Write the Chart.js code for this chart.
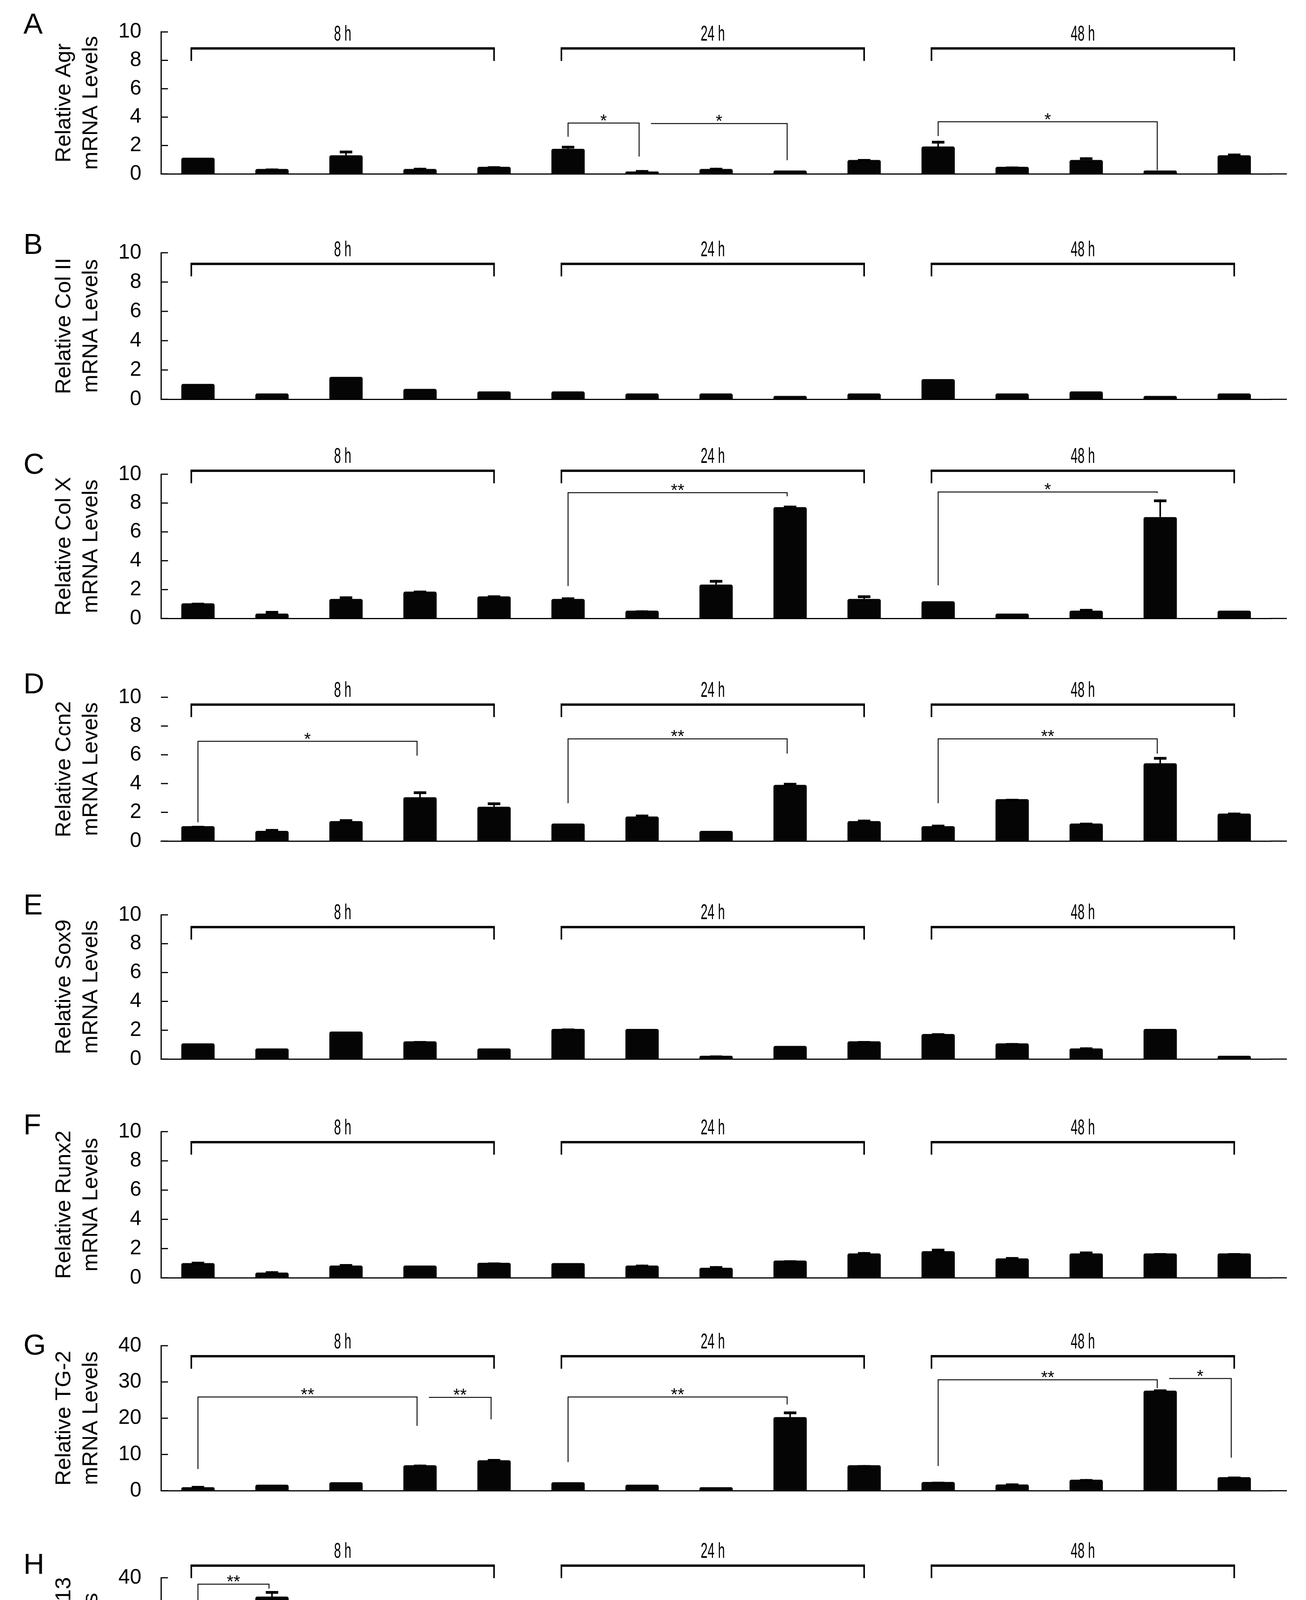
<!DOCTYPE html>
<html lang="en">
<head>
<meta charset="UTF-8" />
<title>Relative mRNA Levels</title>
<script src="https://cdn.jsdelivr.net/npm/chart.js"></script>
<style>
  body { margin: 0; background: #fff; }
  #page { position: relative; width: 3343px; height: 4892px; background: #fff; overflow: hidden; }
  canvas { position: absolute; left: 0; }
</style>
</head>
<body>
<div id="page"></div>
<script>
// ---- data ----
const timeGroups = ['8 h', '24 h', '48 h'];
const treatments = ['Control', 'IL-1 β', 'AGN195183', 'AGN204647', 'ATRA'];

const agrMean  = [1.14, 0.35, 1.31, 0.35, 0.50, 1.77, 0.17, 0.35, 0.24, 0.98, 1.93, 0.50, 0.98, 0.24, 1.31];
const agrErr   = [0, 0.03, 0.33, 0.08, 0.04, 0.21, 0.10, 0.08, 0, 0.07, 0.40, 0.02, 0.19, 0, 0.12];
const col2Mean = [1.05, 0.40, 1.53, 0.71, 0.54, 0.54, 0.40, 0.40, 0.23, 0.40, 1.38, 0.40, 0.54, 0.23, 0.40];
const col2Err  = [0, 0, 0, 0, 0, 0, 0, 0, 0, 0, 0, 0, 0, 0, 0];
const colXMean = [1.05, 0.34, 1.35, 1.86, 1.53, 1.35, 0.54, 2.35, 7.72, 1.35, 1.19, 0.34, 0.54, 7.03, 0.54];
const colXErr  = [0.04, 0.18, 0.18, 0.07, 0.07, 0.11, 0.02, 0.32, 0.10, 0.25, 0, 0, 0.12, 1.22, 0];
const ccn2Mean = [1.04, 0.71, 1.39, 3.05, 2.39, 1.22, 1.71, 0.71, 3.91, 1.39, 1.04, 2.92, 1.22, 5.41, 1.91];
const ccn2Err  = [0.02, 0.13, 0.13, 0.41, 0.30, 0, 0.13, 0, 0.14, 0.10, 0.10, 0.02, 0.06, 0.44, 0.07];
const sox9Mean = [1.09, 0.74, 1.91, 1.23, 0.74, 2.09, 2.09, 0.23, 0.91, 1.23, 1.74, 1.09, 0.74, 2.09, 0.23];
const sox9Err  = [0, 0, 0, 0.02, 0, 0.03, 0, 0.02, 0, 0.02, 0.05, 0.02, 0.07, 0, 0];
const runxMean = [1.01, 0.36, 0.84, 0.84, 1.03, 1.01, 0.84, 0.69, 1.18, 1.67, 1.82, 1.33, 1.67, 1.67, 1.67];
const runxErr  = [0.09, 0.09, 0.10, 0, 0.02, 0, 0.06, 0.11, 0.02, 0.09, 0.17, 0.09, 0.13, 0.02, 0.02];
const tg2Mean  = [0.97, 1.66, 2.35, 7.02, 8.40, 2.35, 1.66, 0.97, 20.3, 7.02, 2.42, 1.73, 3.04, 27.6, 3.73];
const tg2Err   = [0.35, 0, 0, 0.17, 0.35, 0, 0, 0, 1.56, 0.05, 0.05, 0.28, 0.17, 0.35, 0.17];
const mmpMean  = [1.43, 35.4, 0.82, 5.34, 4.05, 2.69, 13.86, 0.75, 5.96, 3.98, 3.37, 5.96, 2.00, 4.73, 2.69];
const mmpErr   = [0, 1.36, 0.20, 0, 0.05, 0, 0.50, 0.50, 0, 0.50, 0, 0, 0.27, 0.05, 0];

// significance brackets: [from bar, to bar, line value, label, left leg end (null = none), right leg end]
const agrSig  = [[5, 6, 3.58, '*', 2.62, 1.22], [6, 8, 3.55, '*', null, 0.96], [10, 13, 3.67, '*', 2.67, 0.27]];
const col2Sig = [];
const colXSig = [[5, 8, 8.72, '**', 2.25, 8.47], [10, 13, 8.77, '*', 2.30, 8.70]];
const ccn2Sig = [[0, 3, 6.94, '*', 1.30, 5.94], [5, 8, 7.11, '**', 2.63, 6.08], [10, 13, 7.11, '**', 2.63, 6.08]];
const sox9Sig = [];
const runxSig = [];
const tg2Sig  = [[0, 3, 25.86, '**', 5.98, 17.9], [3, 4, 25.75, '**', null, 19.7], [5, 8, 25.86, '**', 7.88, 23.78],
                 [10, 13, 30.59, '**', 6.84, 28.27], [13, 14, 30.94, '*', null, 9.09]];
const mmpSig  = [[0, 1, 38.43, '**', 3.30, 37.35], [5, 6, 26.21, '**', 4.43, 16.41], [6, 8, 25.94, '*', null, 10.28],
                 [10, 11, 13.62, '*', 5.79, 9.60]];

// value at which the 8 h / 24 h / 48 h brackets sit in each panel
const groupBracketY = [8.84, 9.24, 10.24, 9.49, 9.15, 9.28, 37.1, 42.95];

const signIL1b   = ['-', '+', '-', '-', '-', '-', '+', '-', '-', '-', '-', '+', '-', '-', '-'];
const signAGN195 = ['-', '-', '+', '-', '-', '-', '-', '+', '-', '-', '-', '-', '+', '-', '-'];
const signAGN204 = ['-', '-', '-', '+', '-', '-', '-', '-', '+', '-', '-', '-', '-', '+', '-'];
const signATRA   = ['-', '-', '-', '-', '+', '-', '-', '-', '-', '+', '-', '-', '-', '-', '+'];

const categories = [];
timeGroups.forEach(t => treatments.forEach(tr => categories.push(t + ' ' + tr)));

// ---- layout ----
const FONT = "'Liberation Sans', Arial, sans-serif";
const W = 3343, H = 4892;
const panels = [
  { letter: 'A', gene: 'Agr',    mean: agrMean,  err: agrErr,  sig: agrSig,  max: 10, step: 2,  top: 57,   height: 430, letterY: 86 },
  { letter: 'B', gene: 'Col II', mean: col2Mean, err: col2Err, sig: col2Sig, max: 10, step: 2,  top: 647,  height: 417, letterY: 650 },
  { letter: 'C', gene: 'Col X',  mean: colXMean, err: colXErr, sig: colXSig, max: 10, step: 2,  top: 1214, height: 411, letterY: 1213 },
  { letter: 'D', gene: 'Ccn2',   mean: ccn2Mean, err: ccn2Err, sig: ccn2Sig, max: 10, step: 2,  top: 1785, height: 410, letterY: 1775, noAxis: true },
  { letter: 'E', gene: 'Sox9',   mean: sox9Mean, err: sox9Err, sig: sox9Sig, max: 10, step: 2,  top: 2342, height: 411, letterY: 2341 },
  { letter: 'F', gene: 'Runx2',  mean: runxMean, err: runxErr, sig: runxSig, max: 10, step: 2,  top: 2897, height: 416, letterY: 2904 },
  { letter: 'G', gene: 'TG-2',   mean: tg2Mean,  err: tg2Err,  sig: tg2Sig,  max: 40, step: 10, top: 3445, height: 413, letterY: 3468 },
  { letter: 'H', gene: 'Mmp-13', mean: mmpMean,  err: mmpErr,  sig: mmpSig,  max: 40, step: 10, top: 4039, height: 420, letterY: 4029, table: true }
];

function narrowText(ctx, text, x, y, size, squeeze) {
  ctx.save();
  ctx.translate(x, y);
  ctx.scale(squeeze, 1);
  ctx.font = size + 'px ' + FONT;
  ctx.textAlign = 'center';
  ctx.textBaseline = 'alphabetic';
  ctx.fillText(text, 0, 0);
  ctx.restore();
}

function decorPlugin(p, idx, canvasTop) {
  return {
    id: 'decor' + idx,
    afterDatasetsDraw(chart) {
      const ctx = chart.ctx, ys = chart.scales.y;
      const meta = chart.getDatasetMeta(0);
      ctx.save();
      ctx.fillStyle = '#000';
      ctx.strokeStyle = '#000';
      ctx.lineWidth = 4;
      meta.data.forEach((bar, i) => {
        const e = p.err[i];
        if (!e) return;
        const yTop = ys.getPixelForValue(p.mean[i] + e);
        ctx.beginPath();
        ctx.moveTo(bar.x, bar.y);
        ctx.lineTo(bar.x, yTop);
        ctx.stroke();
        ctx.fillRect(bar.x - 16, yTop, 32, 7);
      });
      ctx.restore();
    },
    afterDraw(chart) {
      const { ctx, chartArea, scales: { x, y } } = chart;
      const cx = i => x.getPixelForValue(i);
      const cw = cx(1) - cx(0);
      ctx.save();
      ctx.fillStyle = '#000';
      ctx.strokeStyle = '#000';

      // ticks pointing into the plot
      ctx.lineWidth = 3;
      y.ticks.forEach(t => {
        const py = y.getPixelForValue(t.value);
        ctx.beginPath();
        ctx.moveTo(chartArea.left, py);
        ctx.lineTo(chartArea.left + 18, py);
        ctx.stroke();
      });
      // x axis runs a little past the last bar
      ctx.beginPath();
      ctx.moveTo(chartArea.right - 2, chartArea.bottom);
      ctx.lineTo(chartArea.right + 40, chartArea.bottom);
      ctx.stroke();

      // panel letter
      ctx.font = '74px ' + FONT;
      ctx.textAlign = 'left';
      ctx.textBaseline = 'alphabetic';
      ctx.fillText(p.letter, 60, p.letterY - canvasTop);

      // 8 h / 24 h / 48 h brackets
      const gy = y.getPixelForValue(groupBracketY[idx]);
      timeGroups.forEach((g, k) => {
        const xl = cx(k * 5) - 0.09 * cw;
        const xr = cx(k * 5 + 4);
        ctx.fillRect(xl - 2, gy - 3, xr - xl + 4, 6);
        ctx.fillRect(xl - 2, gy, 4, 32);
        ctx.fillRect(xr - 2, gy, 4, 32);
        narrowText(ctx, g, (xl + xr) / 2, gy - 20, 56, 0.57);
      });

      // significance brackets
      ctx.lineWidth = 2.5;
      ctx.strokeStyle = '#111';
      p.sig.forEach(([i, j, v, label, legL, legR]) => {
        const xa = legL === null ? cx(i) + 0.12 * cw : cx(i);
        const xb = cx(j) - 0.04 * cw;
        const yl = y.getPixelForValue(v);
        ctx.beginPath();
        if (legL === null) {
          ctx.moveTo(xa, yl);
        } else {
          ctx.moveTo(xa, y.getPixelForValue(legL));
          ctx.lineTo(xa, yl);
        }
        ctx.lineTo(xb, yl);
        ctx.lineTo(xb, y.getPixelForValue(legR));
        ctx.stroke();
        ctx.font = '44px ' + FONT;
        ctx.textAlign = 'center';
        ctx.fillText(label, (xa + xb) / 2, yl + 9);
      });

      // treatment table under the last panel
      if (p.table) {
        const rows = [
          ['IL-1 β', signIL1b, true],
          ['AGN195183', signAGN195, false],
          ['AGN204647', signAGN204, false],
          ['ATRA', signATRA, true]
        ];
        const rowOffsets = [174, 248, 323, 399];
        rows.forEach(([name, signs, shadow], r) => {
          const by = chartArea.bottom + rowOffsets[r];
          ctx.save();
          if (shadow) {
            ctx.shadowColor = 'rgba(0,0,0,0.4)';
            ctx.shadowOffsetX = 3;
            ctx.shadowOffsetY = 5;
            ctx.shadowBlur = 5;
          }
          ctx.font = '56px ' + FONT;
          ctx.textAlign = 'right';
          ctx.fillText(name, 345, by);
          ctx.restore();
          ctx.font = '54px ' + FONT;
          ctx.textAlign = 'center';
          signs.forEach((s, i) => ctx.fillText(s, cx(i) - 12, by));
        });
      }
      ctx.restore();
    }
  };
}

const page = document.getElementById('page');

panels.forEach((p, idx) => {
  const padTop = Math.min(p.top, 130);
  const padBottom = p.table ? H - (p.top + p.height) : 40;
  const canvasTop = p.top - padTop;
  const canvasHeight = padTop + p.height + padBottom;
  const canvas = document.createElement('canvas');
  canvas.width = W;
  canvas.height = canvasHeight;
  canvas.style.top = canvasTop + 'px';
  canvas.style.width = W + 'px';
  canvas.style.height = canvasHeight + 'px';
  page.appendChild(canvas);

  new Chart(canvas, {
    type: 'bar',
    data: {
      labels: categories,
      datasets: [{
        data: p.mean,
        backgroundColor: '#050505',
        borderRadius: 5,
        barPercentage: 0.45,
        categoryPercentage: 1.0
      }]
    },
    options: {
      responsive: false,
      animation: false,
      devicePixelRatio: 1,
      layout: { padding: { top: padTop, bottom: padBottom, left: 0, right: 89 } },
      plugins: { legend: { display: false }, tooltip: { enabled: false } },
      scales: {
        x: {
          grid: { display: false, drawTicks: false },
          border: { display: true, width: 3, color: '#000' },
          ticks: { display: false }
        },
        y: {
          min: 0,
          max: p.max,
          ticks: { stepSize: p.step, color: '#000', padding: 50, font: { size: 53, family: FONT } },
          grid: { display: false, drawTicks: false },
          border: { display: !p.noAxis, width: 3, color: '#000' },
          title: {
            display: true,
            text: ['Relative ' + p.gene, 'mRNA Levels'],
            color: '#000',
            font: { size: 56, family: FONT, lineHeight: 1.23 },
            padding: { top: 130, bottom: 0 }
          },
          afterFit(scale) { scale.width = 412; }
        }
      }
    },
    plugins: [decorPlugin(p, idx, canvasTop)]
  });
});
</script>
</body>
</html>
